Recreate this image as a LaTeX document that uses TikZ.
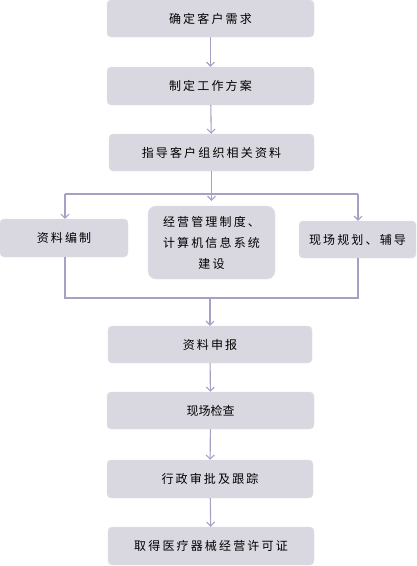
\documentclass[tikz,border=0pt]{standalone}
\usepackage{fontspec}
\setmainfont{Noto Sans CJK SC}
\newfontfamily\cjkwide[LetterSpace=18]{Noto Sans CJK SC}
\usetikzlibrary{arrows.meta, positioning}
\definecolor{boxgrey}{RGB}{217, 216, 225}
\definecolor{boxedge}{RGB}{226, 225, 232}
\definecolor{flowline}{RGB}{165, 160, 196}

\begin{document}
\begin{tikzpicture}[x=1pt, y=-1pt,
  stepbox/.style={draw=boxedge, fill=boxgrey, rounded corners=4pt, inner sep=0pt,
    font=\cjkwide\fontsize{12}{14}\selectfont, text=black},
  flow/.style={draw=flowline, line width=1.1pt, -{Straight Barb[length=4pt, width=8pt]}},
  link/.style={draw=flowline, line width=1.1pt}]
  \useasboundingbox (0,0) rectangle (417,566);
  % main column
  \node[stepbox, minimum width=207pt, minimum height=37pt] (need) at (210.5,18.5) {确定客户需求};
  \node[stepbox, minimum width=207pt, minimum height=38pt] (plan) at (210.5,86) {制定工作方案};
  \node[stepbox, minimum width=205pt, minimum height=37pt] (guide) at (211.5,152.5) {指导客户组织相关资料};
  % three parallel tasks
  \node[stepbox, minimum width=128pt, minimum height=38pt] (docs) at (64,238) {资料编制};
  \node[stepbox, rounded corners=8pt, minimum width=127pt, minimum height=73pt, align=center,
    font=\cjkwide\fontsize{12}{21}\selectfont] (system) at (211.5,242.5) {经营管理制度、\\计算机信息系统\\建设};
  \node[stepbox, minimum width=117pt, minimum height=37pt] (site) at (357.5,239.5) {现场规划、辅导};
  \node[stepbox, minimum width=204pt, minimum height=37pt] (submit) at (210,344.5) {资料申报};
  \node[stepbox, minimum width=207pt, minimum height=37pt, font=\fontsize{12}{14}\selectfont] (check) at (210.5,410.5) {现场检查};
  \node[stepbox, minimum width=206pt, minimum height=38pt] (approve) at (210,479) {行政审批及跟踪};
  \node[stepbox, minimum width=206pt, minimum height=38pt] (licence) at (211,546) {取得医疗器械经营许可证};
  % branch and join points
  \coordinate (splitL) at (65,194);
  \coordinate (splitR) at (358,194);
  \coordinate (joinL) at (65,298);
  \coordinate (joinR) at (358,298);
  \coordinate (joinC) at (210,298);
  \draw[flow] (need) -- (plan);
  \draw[flow] (plan) -- (guide);
  \draw[flow, shorten >=5pt] (guide.south) -- (system.north);
  \draw[link] (splitL) -- (splitR);
  \draw[flow] (splitL) -- (splitL |- docs.north);
  \draw[flow] (splitR) -- (splitR |- site.north);
  \draw[link] (splitL |- docs.south) -- (joinL) -- (joinR) -- (splitR |- site.south);
  \draw[flow] (joinC) -- (submit.north -| joinC);
  \draw[flow] (submit) -- (check);
  \draw[flow] (check) -- (approve);
  \draw[flow] (approve) -- (licence);
\end{tikzpicture}
\end{document}
